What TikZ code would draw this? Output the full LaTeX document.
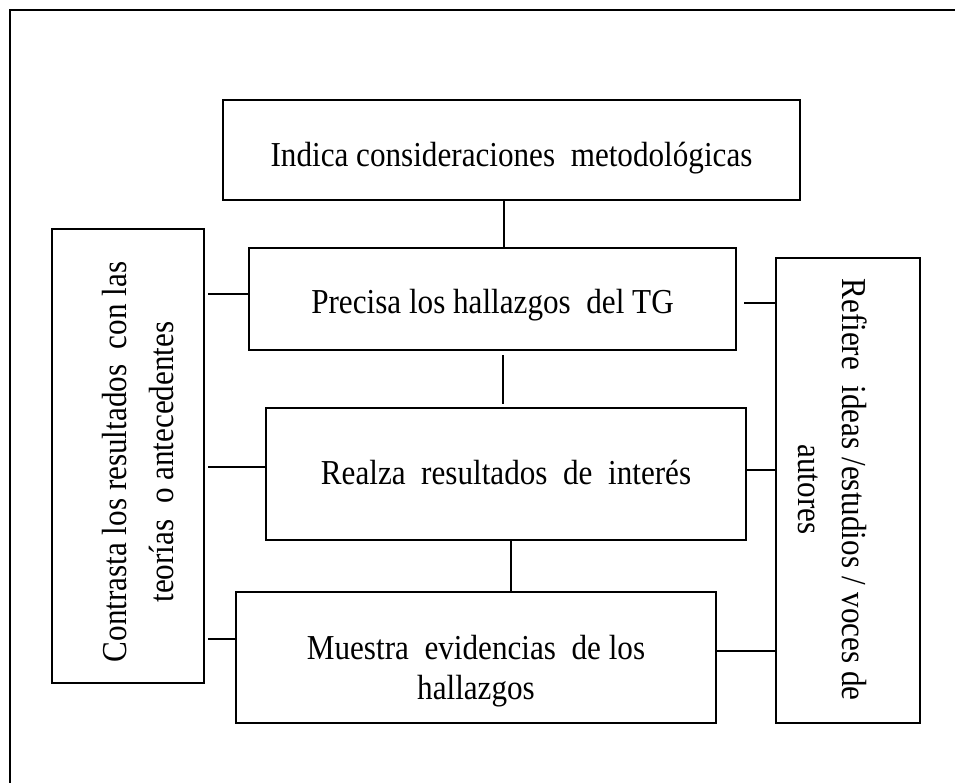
\documentclass[tikz,border=0pt]{standalone}
\usepackage{fontspec}
\setmainfont{Liberation Serif}[FakeStretch=0.89]
\begin{document}
\begin{tikzpicture}[x=1pt,y=-1pt,
  box/.style={draw,line width=2pt,inner sep=0pt,minimum width=#1},
  txt/.style={inner sep=0pt,align=center,font=\fontsize{35}{42}\selectfont},
  conn/.style={line width=1.3pt}]
\useasboundingbox (0,0) rectangle (955,782);
\draw[line width=2pt] (10,800) -- (10,10) -- (975,10);
% boxes
\node[box=577pt,minimum height=100pt] (ind) at (511.5,150) {};
\node[box=487pt,minimum height=102pt] (pre) at (492.5,299) {};
\node[box=480pt,minimum height=132pt] (rea) at (506,474) {};
\node[box=480pt,minimum height=131pt] (mue) at (476,657.5) {};
\node[box=152pt,minimum height=454pt] (con) at (128,456) {};
\node[box=144pt,minimum height=465pt] (ref) at (848,490.5) {};
% texts
\node[txt] (tind) at ([yshift=-8pt]ind.center) {Indica consideraciones\ \ metodológicas};
\node[txt] (tpre) at ([yshift=-6pt]pre.center) {Precisa los hallazgos\ \ del TG};
\node[txt] (trea) at ([yshift=2pt]rea.center) {Realza\ \ resultados\ \ de\ \ interés};
\node[txt,font=\fontsize{35}{40}\selectfont] (tmue) at ([yshift=-14pt]mue.center) {Muestra\ \ evidencias\ \ de los\\hallazgos};
\node[txt,rotate=90,font=\fontsize{35}{47}\selectfont] (tcon) at ([xshift=10pt,yshift=-6pt]con.center) {Contrasta los resultados\ \ con las\\teorías\ \ o antecedentes};
\node[txt,rotate=-90,font=\fontsize{35}{44}\selectfont] (tref) at ([xshift=-15pt,yshift=1pt]ref.center) {Refiere\ \ ideas /estudios / voces de\\autores};
% connector heights
\coordinate (v1) at (504,0);
\coordinate (v2) at (503,0);
\coordinate (v3) at (511,0);
\coordinate (h1) at (0,294);
\coordinate (h2) at (0,467);
\coordinate (h3) at (0,639);
\coordinate (h4) at (0,303);
\coordinate (h5) at (0,470);
\coordinate (h6) at (0,651);
% vertical connectors
\draw[conn] (ind.south -| v1) -- (pre.north -| v1);
\draw[conn,shorten <=4pt,shorten >=3pt] (pre.south -| v2) -- (rea.north -| v2);
\draw[conn] (rea.south -| v3) -- (mue.north -| v3);
% left connectors
\draw[conn,shorten <=3pt] (con.east |- h1) -- (pre.west |- h1);
\draw[conn,shorten <=3pt] (con.east |- h2) -- (rea.west |- h2);
\draw[conn,shorten <=3pt] (con.east |- h3) -- (mue.west |- h3);
% right connectors
\draw[conn,shorten <=7pt] (pre.east |- h4) -- (ref.west |- h4);
\draw[conn] (rea.east |- h5) -- (ref.west |- h5);
\draw[conn] (mue.east |- h6) -- (ref.west |- h6);
\end{tikzpicture}
\end{document}
